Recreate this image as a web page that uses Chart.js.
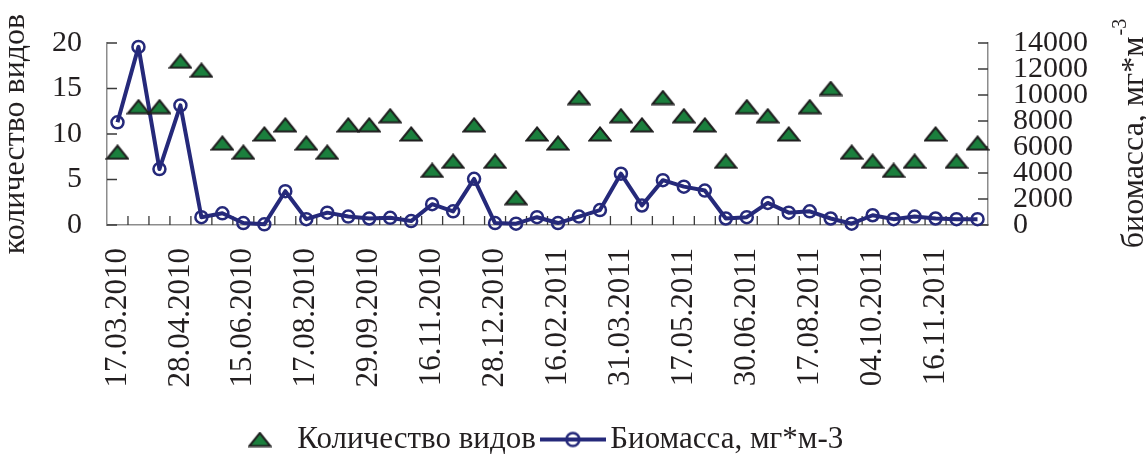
<!DOCTYPE html>
<html>
<head>
<meta charset="utf-8">
<script src="https://cdn.jsdelivr.net/npm/chart.js@4.4.1/dist/chart.umd.min.js"></script>
<style>
  html, body { margin: 0; padding: 0; background: #fff; }
  #wrap { width: 1146px; height: 459px; position: relative; }
</style>
</head>
<body>
<div id="wrap"><canvas id="speciesChart"></canvas></div>
<script>
// sampling dates shown on the axis (every third sample is labelled)
const tickDates = ['17.03.2010', '28.04.2010', '15.06.2010', '17.08.2010', '29.09.2010', '16.11.2010',
  '28.12.2010', '16.02.2011', '31.03.2011', '17.05.2011', '30.06.2011', '17.08.2011', '04.10.2011', '16.11.2011'];

// number of species (left axis)
const speciesCount = [8, 13, 13, 18, 17, 9, 8, 10, 11, 9, 8, 11, 11, 12, 10, 6, 7, 11, 7, 3, 10,
  9, 14, 10, 12, 11, 14, 12, 11, 7, 13, 12, 10, 13, 15, 8, 7, 6, 7, 10, 7, 9];

// biomass, mg*m-3 (right axis)
const biomass = [7900, 13700, 4300, 9200, 600, 900, 150, 50, 2600, 450, 950, 650, 500, 550, 300,
  1600, 1050, 3550, 150, 100, 600, 150, 650, 1150, 3950, 1500, 3450, 2950, 2650, 500, 600, 1700,
  950, 1050, 500, 100, 750, 450, 650, 500, 450, 450];

const categories = speciesCount.map((v, i) => (i % 3 === 0 ? tickDates[i / 3] : ''));

const navy = '#25297a';
const green = '#1b7f3d';
const textColor = '#231f20';
const serif = "'Liberation Serif', 'Times New Roman', serif";

// flat triangle marker like the original
function makeTriangle() {
  const c = document.createElement('canvas');
  c.width = 24; c.height = 16;
  const g = c.getContext('2d');
  g.beginPath();
  g.moveTo(12, 1.5); g.lineTo(22.5, 14.5); g.lineTo(1.5, 14.5); g.closePath();
  g.fillStyle = green; g.fill();
  g.lineWidth = 2; g.strokeStyle = '#1f1f1f'; g.stroke();
  return c;
}

// legend marker: line with hollow circle
function makeLineMarker() {
  const c = document.createElement('canvas');
  c.width = 66; c.height = 18;
  const g = c.getContext('2d');
  g.strokeStyle = navy;
  g.lineWidth = 4;
  g.beginPath(); g.moveTo(0, 9); g.lineTo(66, 9); g.stroke();
  g.lineWidth = 2.5;
  g.beginPath(); g.arc(33, 9, 6.5, 0, Math.PI * 2); g.stroke();
  return c;
}

const triangleImg = makeTriangle();
const lineImg = makeLineMarker();

// short inward tick marks on all three axes
const inwardTicks = {
  id: 'inwardTicks',
  beforeDatasetsDraw(chart) {
    const { ctx, chartArea: a, scales: { x, y, y1 } } = chart;
    ctx.save();
    ctx.strokeStyle = '#3a3a3a';
    ctx.lineWidth = 1.3;
    ctx.beginPath();
    y.ticks.forEach(t => {
      const py = y.getPixelForValue(t.value);
      ctx.moveTo(a.left, py); ctx.lineTo(a.left + 10, py);
    });
    y1.ticks.forEach(t => {
      const py = y1.getPixelForValue(t.value);
      ctx.moveTo(a.right, py); ctx.lineTo(a.right - 10, py);
    });
    for (let i = 1; i < categories.length; i++) {
      const px = x.getPixelForValue(i - 0.5);
      ctx.moveTo(px, a.bottom); ctx.lineTo(px, a.bottom - 9);
    }
    ctx.stroke();
    ctx.restore();
  }
};

// right title reads bottom-to-top with a superscript
const rightTitle = {
  id: 'rightTitle',
  afterDraw(chart) {
    const { ctx, chartArea: a } = chart;
    const main = 'биомасса, мг*м';
    const sup = '-3';
    ctx.save();
    ctx.fillStyle = textColor;
    ctx.font = '32px ' + serif;
    const w1 = ctx.measureText(main).width;
    ctx.font = '20px ' + serif;
    const w2 = ctx.measureText(sup).width;
    ctx.translate(chart.width - 3, (a.top + a.bottom) / 2);
    ctx.rotate(-Math.PI / 2);
    ctx.textBaseline = 'alphabetic';
    ctx.textAlign = 'left';
    const start = -(w1 + w2) / 2;
    ctx.font = '32px ' + serif;
    ctx.fillText(main, start, 0);
    ctx.font = '20px ' + serif;
    ctx.fillText(sup, start + w1 + 1, -17);
    ctx.restore();
  }
};

// centre the legend under the plot area
const legendUnderPlot = {
  id: 'legendUnderPlot',
  afterLayout(chart) {
    if (chart.legend) {
      chart.legend.left = chart.chartArea.left - 7;
      chart.legend.right = chart.chartArea.right - 7;
    }
  }
};

Chart.defaults.font.family = serif;
Chart.defaults.color = textColor;

const ctx = document.getElementById('speciesChart').getContext('2d');

new Chart(ctx, {
  type: 'line',
  data: {
    labels: categories,
    datasets: [
      {
        label: 'Количество видов',
        data: speciesCount,
        yAxisID: 'y',
        showLine: false,
        pointStyle: triangleImg,
        pointRadius: 8,
        clip: false,
        order: 1
      },
      {
        label: 'Биомасса, мг*м-3',
        data: biomass,
        yAxisID: 'y1',
        borderColor: navy,
        borderWidth: 4,
        borderJoinStyle: 'round',
        tension: 0,
        pointStyle: 'circle',
        pointRadius: 6,
        pointBorderWidth: 2.5,
        pointBorderColor: navy,
        pointBackgroundColor: 'rgba(0,0,0,0)',
        clip: false,
        order: 2
      }
    ]
  },
  options: {
    responsive: true,
    maintainAspectRatio: false,
    animation: false,
    layout: { padding: { top: 39, right: 0, left: 0, bottom: -6 } },
    plugins: {
      tooltip: { enabled: false },
      legend: {
        position: 'bottom',
        labels: {
          usePointStyle: true,
          pointStyleWidth: 44,
          padding: 15,
          color: textColor,
          font: { family: serif, size: 31 },
          generateLabels: chart => chart.data.datasets.map((ds, i) => ({
            text: ds.label,
            pointStyle: i === 0 ? triangleImg : lineImg,
            datasetIndex: i,
            hidden: false,
            lineWidth: 0,
            fillStyle: 'rgba(0,0,0,0)',
            strokeStyle: 'rgba(0,0,0,0)',
            fontColor: textColor
          }))
        }
      }
    },
    scales: {
      x: {
        type: 'category',
        offset: true,
        grid: { display: false, drawTicks: false },
        border: { display: true, color: '#8c8c8c', width: 1.5 },
        ticks: {
          autoSkip: false,
          maxRotation: 90,
          minRotation: 90,
          padding: 23,
          color: textColor,
          font: { family: serif, size: 31 }
        },
        afterFit: s => { s.height = 184; }
      },
      y: {
        position: 'left',
        min: 0,
        max: 20,
        grid: { display: false, drawTicks: false },
        border: { display: true, color: '#8c8c8c', width: 1.5 },
        ticks: {
          stepSize: 5,
          padding: 25,
          color: textColor,
          font: { family: serif, size: 30 },
          callback: v => String(v)
        },
        title: {
          display: true,
          text: 'количество видов',
          color: textColor,
          font: { family: serif, size: 32, lineHeight: 0.9 },
          padding: { top: 1, bottom: 0 }
        },
        afterFit: s => { s.width = 107; }
      },
      y1: {
        position: 'right',
        min: 0,
        max: 14000,
        grid: { display: false, drawTicks: false },
        border: { display: true, color: '#8c8c8c', width: 1.5 },
        ticks: {
          stepSize: 2000,
          autoSkip: false,
          padding: 25,
          color: textColor,
          font: { family: serif, size: 30 },
          callback: v => String(v)
        },
        afterFit: s => { s.width = 158; }
      }
    }
  },
  plugins: [inwardTicks, rightTitle, legendUnderPlot]
});
</script>
</body>
</html>
